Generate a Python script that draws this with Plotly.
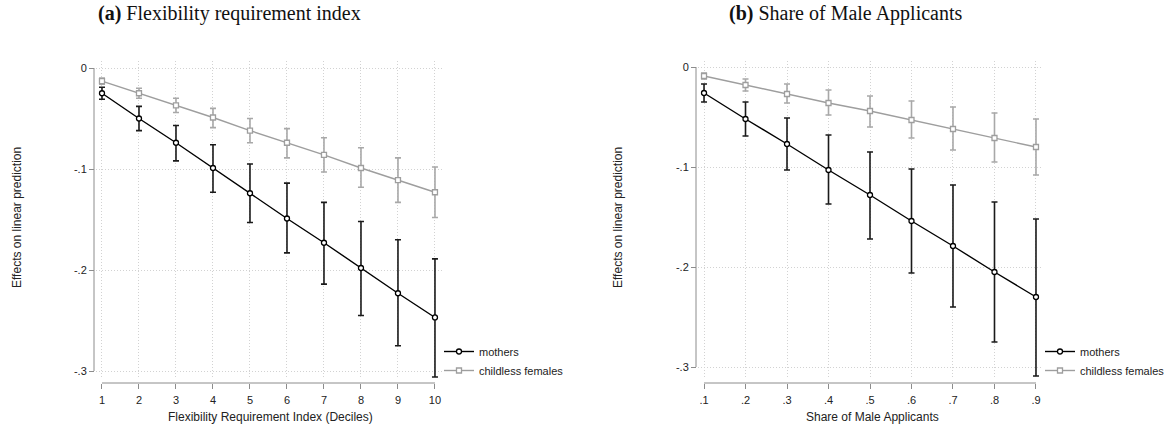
import plotly.graph_objects as go

# panel (a): flexibility requirement index deciles
deciles = [1, 2, 3, 4, 5, 6, 7, 8, 9, 10]
mothers_a = [-0.025, -0.050, -0.074, -0.099, -0.124, -0.149, -0.173, -0.198, -0.223, -0.247]
mothers_a_lo = [-0.031, -0.062, -0.092, -0.123, -0.153, -0.183, -0.214, -0.245, -0.275, -0.306]
mothers_a_hi = [-0.019, -0.038, -0.057, -0.076, -0.095, -0.114, -0.133, -0.152, -0.170, -0.189]
childless_a = [-0.013, -0.025, -0.037, -0.049, -0.062, -0.074, -0.086, -0.099, -0.111, -0.123]
childless_a_lo = [-0.016, -0.030, -0.044, -0.059, -0.074, -0.089, -0.103, -0.118, -0.133, -0.148]
childless_a_hi = [-0.010, -0.020, -0.030, -0.040, -0.050, -0.060, -0.069, -0.079, -0.089, -0.098]

# panel (b): share of male applicants
shares = [0.1, 0.2, 0.3, 0.4, 0.5, 0.6, 0.7, 0.8, 0.9]
share_labels = ['.1', '.2', '.3', '.4', '.5', '.6', '.7', '.8', '.9']
mothers_b = [-0.026, -0.052, -0.077, -0.103, -0.128, -0.154, -0.179, -0.205, -0.230]
mothers_b_lo = [-0.035, -0.069, -0.103, -0.137, -0.172, -0.206, -0.240, -0.275, -0.309]
mothers_b_hi = [-0.017, -0.035, -0.051, -0.068, -0.085, -0.102, -0.118, -0.135, -0.152]
childless_b = [-0.009, -0.018, -0.027, -0.036, -0.044, -0.053, -0.062, -0.071, -0.080]
childless_b_lo = [-0.012, -0.024, -0.036, -0.048, -0.060, -0.071, -0.083, -0.095, -0.108]
childless_b_hi = [-0.006, -0.012, -0.017, -0.023, -0.029, -0.034, -0.040, -0.046, -0.052]

y_ticks = [0, -0.1, -0.2, -0.3]
y_labels = ['0', '-.1', '-.2', '-.3']

W, H = 1172, 431
SANS = 'Liberation Sans, Arial, sans-serif'
SERIF = 'Liberation Serif, DejaVu Serif, serif'
BLACK = '#000000'
GREY = '#9e9e9e'


def px_x(p):
    return p / W


def px_y(p):
    return 1 - p / H


def series(x, y, lo, hi, name, color, bar_color, symbol, xa, ya, legend):
    return go.Scatter(
        x=x, y=y, name=name, mode='lines+markers',
        xaxis=xa, yaxis=ya, legend=legend,
        line=dict(color=color, width=1.4),
        marker=dict(symbol=symbol, size=5, color='white',
                    line=dict(color=color, width=1.3)),
        error_y=dict(type='data', symmetric=False,
                     array=[h - v for h, v in zip(hi, y)],
                     arrayminus=[v - l for v, l in zip(y, lo)],
                     color=bar_color, thickness=1.6, width=3))


fig = go.Figure()
fig.add_trace(series(deciles, mothers_a, mothers_a_lo, mothers_a_hi, 'mothers',
                     BLACK, '#1a1a1a', 'circle', 'x', 'y', 'legend'))
fig.add_trace(series(deciles, childless_a, childless_a_lo, childless_a_hi,
                     'childless females', GREY, '#a8a8a8', 'square',
                     'x', 'y', 'legend'))
fig.add_trace(series(shares, mothers_b, mothers_b_lo, mothers_b_hi, 'mothers',
                     BLACK, '#1a1a1a', 'circle', 'x2', 'y2', 'legend2'))
fig.add_trace(series(shares, childless_b, childless_b_lo, childless_b_hi,
                     'childless females', GREY, '#a8a8a8', 'square',
                     'x2', 'y2', 'legend2'))

axis_font = dict(family=SANS, size=11, color='#222222')
grid = dict(showgrid=True, gridcolor='#d2d2d2', griddash='1px,2px', gridwidth=1,
            zeroline=False, showline=False, ticks='outside', ticklen=5,
            tickcolor='#8c8c8c', tickwidth=1, tickfont=axis_font)

top_px, bot_px = 61, 378
xaxis_px = 383

legend_style = dict(xanchor='left', yanchor='top',
                    font=dict(family=SANS, size=11, color='#222222'),
                    bgcolor='rgba(0,0,0,0)', tracegroupgap=0, itemwidth=30)

fig.update_layout(
    width=W, height=H, margin=dict(l=0, r=0, t=0, b=0),
    plot_bgcolor='white', paper_bgcolor='white',
    xaxis=dict(domain=[px_x(96), px_x(442)], range=[0.838, 10.19],
               anchor='free', position=px_y(xaxis_px),
               tickvals=deciles, ticklabelstandoff=2, **grid),
    yaxis=dict(domain=[px_y(bot_px), px_y(top_px)],
               range=[-(bot_px - 68) / 1010, (68 - top_px) / 1010],
               anchor='free', position=px_x(94),
               tickvals=y_ticks, ticktext=y_labels, **grid),
    xaxis2=dict(domain=[px_x(698), px_x(1043)], range=[0.0855, 0.9169],
                anchor='free', position=px_y(xaxis_px),
                tickvals=shares, ticktext=share_labels, ticklabelstandoff=2, **grid),
    yaxis2=dict(domain=[px_y(bot_px), px_y(top_px)],
                range=[-(bot_px - 67) / 1000, (67 - top_px) / 1000],
                anchor='free', position=px_x(696),
                tickvals=y_ticks, ticktext=y_labels, **grid),
    legend=dict(x=px_x(439), y=px_y(337), **legend_style),
    legend2=dict(x=px_x(1040), y=px_y(337), **legend_style),
)

# stata-style axis lines that stop at the outer ticks
line_style = dict(color='#8c8c8c', width=1)
for xr, yr, xpos, xlo, xhi in [('x', 'y', 94, 1, 10), ('x2', 'y2', 696, 0.1, 0.9)]:
    fig.add_shape(type='line', xref='paper', yref=yr, x0=px_x(xpos), x1=px_x(xpos),
                  y0=0, y1=-0.3, line=line_style)
    fig.add_shape(type='line', xref=xr, yref='paper', x0=xlo, x1=xhi,
                  y0=px_y(xaxis_px), y1=px_y(xaxis_px), line=line_style)

# titles
title_big = dict(family=SERIF, size=20, color='#111111')
for xp, txt in [(229, '<b>(a)</b> Flexibility requirement index'),
                (846, '<b>(b)</b> Share of Male Applicants')]:
    fig.add_annotation(text=txt, x=px_x(xp), y=px_y(13), xref='paper', yref='paper',
                       xanchor='center', yanchor='middle', showarrow=False,
                       font=title_big)

# axis titles
title_font = dict(family=SANS, size=12, color='#222222')
for xp, txt in [(270, 'Flexibility Requirement Index (Deciles)'),
                (872, 'Share of Male Applicants')]:
    fig.add_annotation(text=txt, x=px_x(xp), y=px_y(417), xref='paper', yref='paper',
                       xanchor='center', yanchor='middle', showarrow=False,
                       font=title_font)
for xp in [17, 618]:
    fig.add_annotation(text='Effects on linear prediction', x=px_x(xp), y=px_y(218),
                       xref='paper', yref='paper', xanchor='center', yanchor='middle',
                       showarrow=False, textangle=-90, font=title_font)

fig.write_html("out.html", config={'displayModeBar': False},
               post_script="document.body.style.margin='0';")
